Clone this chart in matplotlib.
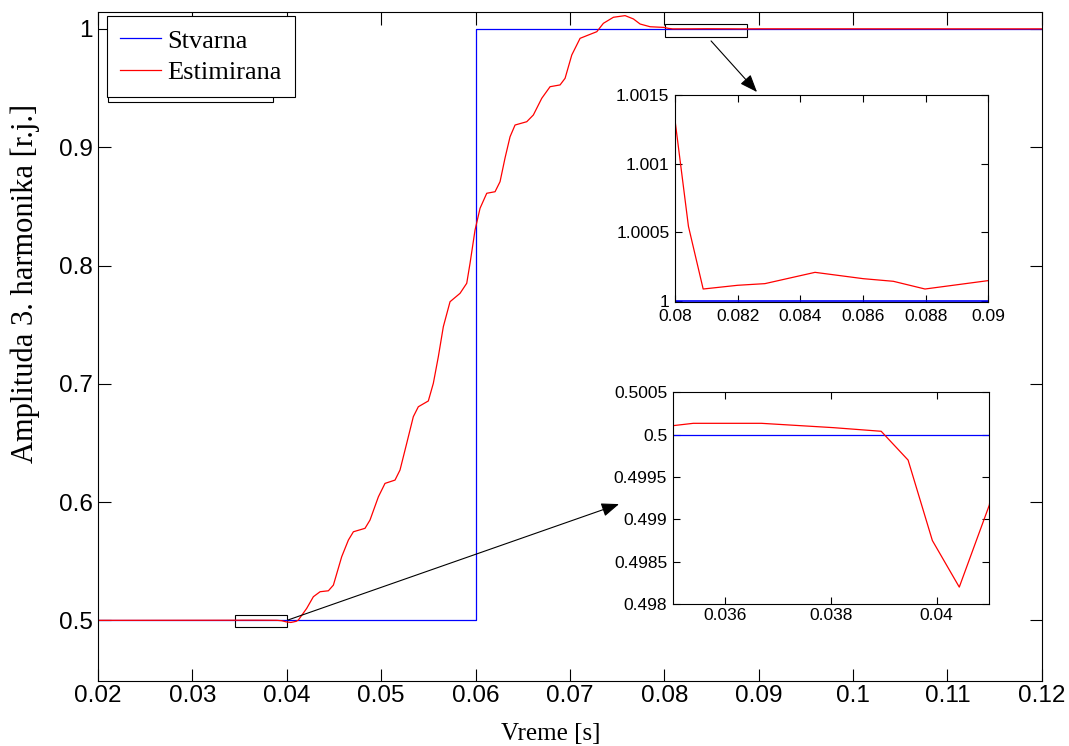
import matplotlib
matplotlib.use("Agg")
import matplotlib.pyplot as plt
from matplotlib.patches import Rectangle, FancyArrowPatch
from matplotlib.ticker import FuncFormatter

# reference step (Stvarna)
t_ref = [0.02, 0.06, 0.06, 0.12]
y_ref = [0.5, 0.5, 1.0, 1.0]

# estimated amplitude (Estimirana)
t_est = [0.020, 0.0350, 0.03539, 0.03668, 0.03804, 0.03895, 0.03946, 0.03992,
         0.04043, 0.04100, 0.04123, 0.04211, 0.04282, 0.04353, 0.04441, 0.04494,
         0.04582, 0.04653, 0.04706, 0.04829, 0.04882, 0.04971, 0.05041, 0.05147,
         0.05200, 0.05271, 0.05341, 0.05394, 0.05500, 0.05553, 0.05606, 0.05659,
         0.05730, 0.05836, 0.05907, 0.05942, 0.05995, 0.06048, 0.06119, 0.06207,
         0.06260, 0.06313, 0.06366, 0.06419, 0.06543, 0.06613, 0.06702, 0.06790,
         0.06896, 0.06949, 0.07020, 0.07108, 0.07196, 0.07285, 0.07355, 0.07461,
         0.07585, 0.07673, 0.07744, 0.07850, 0.0800, 0.08043, 0.0809, 0.0820,
         0.08287, 0.08447, 0.08601, 0.08697, 0.08798, 0.0900, 0.1200]
y_est = [0.50000, 0.500106, 0.500134, 0.500134, 0.500083, 0.500040, 0.499700, 0.498750,
         0.498200, 0.499170, 0.5003, 0.5101, 0.5200, 0.5242, 0.5250, 0.5298,
         0.5538, 0.5679, 0.5749, 0.5778, 0.5848, 0.6045, 0.6158, 0.6186,
         0.6271, 0.6497, 0.6722, 0.6806, 0.6855, 0.7004, 0.7229, 0.7483,
         0.7694, 0.7765, 0.7850, 0.8019, 0.8300, 0.8484, 0.8611, 0.8624,
         0.8709, 0.8910, 0.9089, 0.9188, 0.9216, 0.9273, 0.9414, 0.9512,
         0.9527, 0.9583, 0.9780, 0.9921, 0.9949, 0.9977, 1.0048, 1.0099,
         1.0113, 1.0085, 1.0042, 1.0019, 1.001317, 1.000544, 1.000089, 1.000116,
         1.000128, 1.000210, 1.000164, 1.000145, 1.000089, 1.000150, 1.000100]

main_xticks = [0.02, 0.03, 0.04, 0.05, 0.06, 0.07, 0.08, 0.09, 0.10, 0.11, 0.12]
main_yticks = [0.5, 0.6, 0.7, 0.8, 0.9, 1.0]
top_xticks = [0.080, 0.082, 0.084, 0.086, 0.088, 0.090]
top_yticks = [1.0, 1.0005, 1.001, 1.0015]
bot_xticks = [0.036, 0.038, 0.040]
bot_yticks = [0.498, 0.4985, 0.499, 0.4995, 0.5, 0.5005]

SANS = "Liberation Sans"
SERIF = "Liberation Serif"
fmt = FuncFormatter(lambda v, p: "%g" % round(v, 6))

fig = plt.figure(figsize=(10.69, 7.46), dpi=100)


def matlab_box(ax, size, ticklen, xpad=3):
    ax.tick_params(direction="in", top=True, right=True, length=ticklen,
                   width=0.8, labelsize=size, pad=4)
    ax.tick_params(axis="x", pad=xpad)
    for lab in ax.get_xticklabels() + ax.get_yticklabels():
        lab.set_fontfamily(SANS)
    for s in ax.spines.values():
        s.set_linewidth(0.8)
    ax.xaxis.set_major_formatter(fmt)
    ax.yaxis.set_major_formatter(fmt)


ax = fig.add_axes([0.0917, 0.0871, 0.8828, 0.8964])
l_ref, = ax.plot(t_ref, y_ref, color="#0000ff", lw=0.9, label="Stvarna")
l_est, = ax.plot(t_est, y_est, color="#ff0000", lw=0.9, label="Estimirana")
ax.set_xlim(0.02, 0.12)
ax.set_ylim(0.4487, 1.0141)
ax.set_xticks(main_xticks)
ax.set_yticks(main_yticks)
matlab_box(ax, 17.5, 9)
ax.set_xlabel("Vreme [s]", family=SERIF, fontsize=18, va="top")
ax.xaxis.set_label_coords(0.48, -0.0635)
ax.set_ylabel("Amplituda 3. harmonika [r.j.]", family=SERIF, fontsize=22)
ax.yaxis.set_label_coords(-0.062, 0.595)

# zoom windows
ax.add_patch(Rectangle((0.0345, 0.4941), 0.0055, 0.0101, fill=False, ec="black", lw=0.8))
ax.add_patch(Rectangle((0.0801, 0.9930), 0.0087, 0.0110, fill=False, ec="black", lw=0.8))

# legend with the extra frame peeking out underneath
ax.add_patch(Rectangle((108 / 1069, 1 - 101.7 / 746), (273 - 108) / 1069, 70 / 746,
                       transform=fig.transFigure, fc="white", ec="black", lw=0.8,
                       zorder=4.5))
leg = ax.legend(handles=[l_ref, l_est], loc="upper left",
                bbox_to_anchor=(0.0095, 0.9945), borderaxespad=0,
                prop={"family": SERIF, "size": 19}, fancybox=False,
                edgecolor="black", framealpha=1, handlelength=1.55,
                handletextpad=0.25, labelspacing=0.3, borderpad=0.5)
leg.get_frame().set_linewidth(0.8)

# inset around t = 0.08 .. 0.09
ax1 = fig.add_axes([0.6314, 0.5956, 0.2931, 0.2775])
ax1.plot(t_ref, y_ref, color="#0000ff", lw=1.2)
ax1.plot(t_est, y_est, color="#ff0000", lw=0.9)
ax1.set_xlim(0.08, 0.09)
ax1.set_ylim(0.999997, 1.0015)
ax1.set_xticks(top_xticks)
ax1.set_yticks(top_yticks)
matlab_box(ax1, 12.5, 5, xpad=5)

# inset around t = 0.035 .. 0.041
ax2 = fig.add_axes([0.6293, 0.1903, 0.2962, 0.2838])
ax2.plot(t_ref, y_ref, color="#0000ff", lw=0.9)
ax2.plot(t_est, y_est, color="#ff0000", lw=0.9)
ax2.set_xlim(0.035, 0.041)
ax2.set_ylim(0.498, 0.5005)
ax2.set_xticks(bot_xticks)
ax2.set_yticks(bot_yticks)
matlab_box(ax2, 12.5, 5)

# arrows from the zoom windows to the insets
for start, end in [((0.08496, 0.9899), (0.08983, 0.9467)),
                   ((0.04013, 0.5003), (0.07521, 0.5983))]:
    arr = FancyArrowPatch(start, end, transform=ax.transData,
                          arrowstyle="-|>,head_length=0.9,head_width=0.35",
                          mutation_scale=12, color="black", lw=0.8,
                          shrinkA=0, shrinkB=0)
    fig.add_artist(arr)

fig.savefig("out.png", dpi=100)
